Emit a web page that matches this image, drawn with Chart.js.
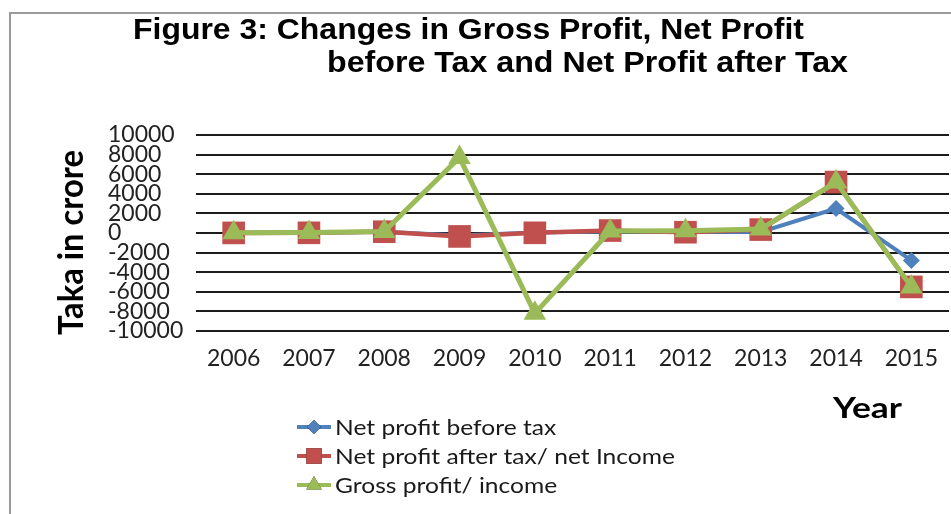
<!DOCTYPE html>
<html>
<head>
<meta charset="utf-8">
<script src="https://cdn.jsdelivr.net/npm/chart.js@4/dist/chart.umd.min.js"></script>
<style>
  html, body { margin: 0; padding: 0; background: #ffffff; overflow: hidden; }
  #wrap { width: 951px; height: 514px; position: relative; overflow: hidden; }
  #chart { display: block; }
</style>
</head>
<body>
<div id="wrap"><canvas id="chart" width="965" height="514"></canvas></div>
<script>
// Years on the horizontal axis
const years = ['2006', '2007', '2008', '2009', '2010', '2011', '2012', '2013', '2014', '2015'];

// Values in Taka crore
const netProfitBeforeTax = [20, 30, 120, -250, 50, 150, 120, 100, 2500, -2800];
const netProfitAfterTax = [10, 20, 130, -350, 20, 250, 80, 350, 5200, -5500];
const grossProfit = [30, 40, 150, 7700, -8200, 200, 220, 400, 5200, -5500];

// Vertical axis tick values
const yTicks = [10000, 8000, 6000, 4000, 2000, 0, -2000, -4000, -6000, -8000, -10000];

const seriesNames = ['Net profit before tax', 'Net profit after tax/ net Income', 'Gross profit/ income'];
const titleLines = ['Figure 3: Changes in Gross Profit, Net Profit', 'before Tax and Net Profit after Tax'];
const yTitle = 'Taka in crore';
const xTitle = 'Year';

const BLUE = '#4F81BD';
const RED = '#C0504D';
const GREEN = '#9BBB59';
const BODY_FONT = 'Lato, "Open Sans", sans-serif';

// Draw a text string squeezed or stretched to a given width
function fitText(ctx, text, x, y, width) {
  const w = ctx.measureText(text).width;
  ctx.save();
  ctx.translate(x, y);
  ctx.scale(width / w, 1);
  ctx.textAlign = 'left';
  ctx.fillText(text, 0, 0);
  ctx.restore();
}

// Frame, titles and the stacked legend
const decorations = {
  id: 'decorations',
  beforeDraw(chart) {
    const ctx = chart.ctx;
    ctx.save();
    ctx.fillStyle = '#ffffff';
    ctx.fillRect(0, 0, chart.width, chart.height);
    ctx.strokeStyle = '#9a9a9a';
    ctx.lineWidth = 2;
    ctx.beginPath();
    ctx.moveTo(10, chart.height + 5);
    ctx.lineTo(10, 13);
    ctx.lineTo(chart.width + 5, 13);
    ctx.stroke();
    ctx.restore();
  },
  afterDraw(chart) {
    const ctx = chart.ctx;
    ctx.save();
    ctx.fillStyle = '#000000';
    ctx.textBaseline = 'alphabetic';

    // Figure title
    ctx.font = 'bold 29px "Liberation Sans", Arial, sans-serif';
    fitText(ctx, titleLines[0], 133, 39, 671);
    fitText(ctx, titleLines[1], 327, 72, 521);

    // Y axis title, rotated
    ctx.font = 'bold 34px ' + BODY_FONT;
    ctx.save();
    ctx.translate(83, 335);
    ctx.rotate(-Math.PI / 2);
    fitText(ctx, yTitle, 0, 0, 185);
    ctx.restore();

    // X axis title
    ctx.font = 'bold 29px ' + BODY_FONT;
    fitText(ctx, xTitle, 833, 418, 69);

    // Legend rows, text widened evenly so the longest entry ends at x=675
    const rows = [427, 456, 485];
    ctx.font = '22px ' + BODY_FONT;
    const stretch = 340 / ctx.measureText(seriesNames[1]).width;
    ctx.textBaseline = 'middle';
    chart.data.datasets.forEach((ds, i) => {
      const y = rows[i];
      ctx.strokeStyle = ds.borderColor;
      ctx.lineWidth = 4;
      ctx.beginPath();
      ctx.moveTo(297, y);
      ctx.lineTo(331, y);
      ctx.stroke();
      Chart.helpers.drawPoint(ctx, {
        pointStyle: ds.pointStyle,
        radius: ds.legendRadius,
        rotation: 0,
        borderWidth: 0
      }, 314, y);
      ctx.fillStyle = ds.backgroundColor;
      ctx.fill();
      ctx.fillStyle = '#1a1a1a';
      const w = ctx.measureText(ds.label).width * stretch;
      fitText(ctx, ds.label, 335, y + 1, w);
    });
    ctx.restore();
  }
};

const chart = new Chart(document.getElementById('chart'), {
  type: 'line',
  data: {
    labels: years,
    datasets: [
      {
        label: seriesNames[0],
        data: netProfitBeforeTax,
        borderColor: BLUE,
        backgroundColor: BLUE,
        borderWidth: 4,
        pointStyle: 'rectRot',
        pointRadius: 8.5,
        pointBorderWidth: 0,
        legendRadius: 7,
        tension: 0,
        order: 2
      },
      {
        label: seriesNames[1],
        data: netProfitAfterTax,
        borderColor: RED,
        backgroundColor: RED,
        borderWidth: 4.5,
        pointStyle: 'rect',
        pointRadius: 16,
        pointBorderWidth: 0,
        legendRadius: 11,
        tension: 0,
        order: 1
      },
      {
        label: seriesNames[2],
        data: grossProfit,
        borderColor: GREEN,
        backgroundColor: GREEN,
        borderWidth: 5,
        pointStyle: 'triangle',
        pointRadius: 13,
        pointBorderWidth: 0,
        legendRadius: 9,
        tension: 0,
        order: 0
      }
    ]
  },
  options: {
    responsive: false,
    animation: false,
    devicePixelRatio: 1,
    layout: { padding: { top: 135, left: 108, right: 2, bottom: 0 } },
    plugins: {
      legend: { display: false },
      title: { display: false },
      tooltip: { enabled: false }
    },
    scales: {
      x: {
        offset: true,
        afterFit(scale) {
          scale.height = 183;
          scale.paddingLeft = 0;
          scale.paddingRight = 0;
        },
        grid: { display: false, drawTicks: false },
        border: { display: false },
        ticks: {
          padding: 14,
          color: '#222222',
          font: { family: BODY_FONT, size: 23 }
        }
      },
      y: {
        min: -10000,
        max: 10000,
        afterFit(scale) { scale.width = 88; },
        afterBuildTicks(scale) {
          scale.ticks = yTicks.map(v => ({ value: v }));
        },
        grid: { color: '#1c1c1c', lineWidth: 2, drawTicks: false },
        border: { display: false },
        ticks: {
          crossAlign: 'far',
          padding: 0,
          color: '#222222',
          autoSkip: false,
          font: { family: BODY_FONT, size: 23, lineHeight: 1 },
          callback: (v) => String(v)
        }
      }
    }
  },
  plugins: [decorations]
});
</script>
</body>
</html>
